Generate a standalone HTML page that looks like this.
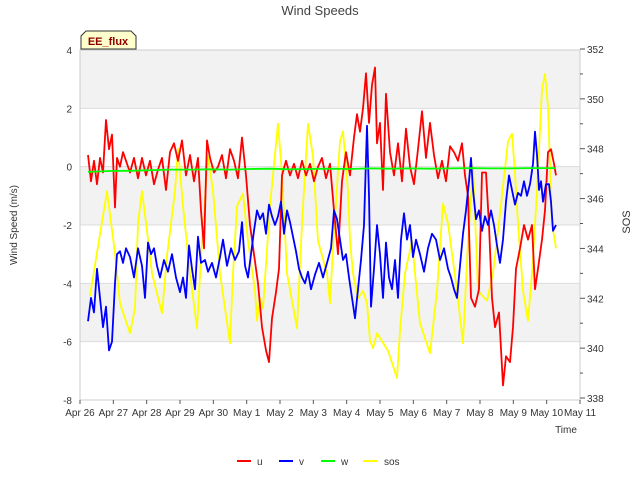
<!DOCTYPE html>
<html><head><meta charset="utf-8"><style>
body{margin:0;background:#fff;}
svg{font-family:"Liberation Sans","DejaVu Sans",sans-serif;}
</style></head><body>
<svg id="c" width="640" height="480"></svg>
<script>
// x positions given as days since Apr 26
const uX=[88,91,94,97,100,103,106,109,112,115,117,120,123,126,130,134,138,142,146,150,154,158,162,166,170,174,178,182,186,190,194,198,201,204,207,210,214,218,222,226,230,234,238,242,246,250,254,258,262,266,269,272,276,279,282,286,290,294,298,302,306,310,314,318,322,326,330,334,338,342,346,350,354,357,360,363,366,369,372,375,377,380,383,386,390,394,398,402,406,410,414,418,422,426,430,434,438,442,446,450,454,458,462,465,468,471,475,479,482,486,489,492,495,499,503,506,510,513,516,520,524,528,532,535,538,542,545,548,551,554,556];
const uV=[0.4,-0.5,0.2,-0.6,0.3,-0.2,1.6,0.6,1.1,-1.4,0.3,0,0.5,0.2,-0.2,0.3,-0.4,0.3,-0.3,0.2,-0.6,-0.1,0.3,-0.8,0.5,0.8,0.2,0.9,-0.3,0.4,-0.5,0.3,-1.5,-2.8,0.9,0.3,-0.2,0,0.4,-0.4,0.6,0.2,-0.4,1,-0.3,-2,-3,-4,-5.5,-6.3,-6.7,-5.2,-4.3,-3.5,-0.3,0.2,-0.3,0.1,-0.4,0.2,-0.3,0.1,-0.5,0,0.3,-0.4,0.1,-1.5,-3,-0.5,0.5,-0.3,1,1.8,1.2,2,3.2,1.5,2.8,3.4,0.8,1.5,-0.8,2.5,0.5,-0.3,0.8,-0.5,1.3,0,-0.6,0.6,1.9,0.3,1.5,0.4,-0.4,0.2,-0.5,0.7,0.5,0.2,0.8,-0.3,-1,-4.5,-4.8,-4.2,-0.2,-0.2,-2,-4.5,-5.5,-5,-7.5,-6.5,-6.7,-5.5,-3.5,-2.8,-2,-2.5,-2,-4.2,-3.5,-2.5,-1.5,0.5,0.6,0.1,-0.3];
const vX=[88,91,94,97,100,103,106,109,112,115,117,120,123,126,130,134,138,142,145,148,151,154,157,160,164,168,172,176,180,183,186,189,192,195,198,201,205,208,212,216,220,223,227,231,235,239,242,245,248,251,254,257,260,263,266,269,272,275,278,281,284,287,290,293,296,299,302,305,308,311,315,319,323,327,331,334,337,340,343,346,349,352,355,358,361,364,367,369,371,374,377,380,383,386,389,392,395,398,401,404,407,410,413,416,420,424,428,432,436,440,444,448,451,454,457,460,463,466,469,471,473,476,479,482,485,488,491,494,497,500,503,506,509,512,515,518,521,524,527,530,533,535,537,539,541,543,546,549,551,553,556];
const vV=[-5.3,-4.5,-5,-3.5,-4.5,-5.5,-4.8,-6.3,-6,-4,-3,-2.9,-3.3,-2.8,-3.1,-3.8,-2.8,-3.4,-4.5,-2.6,-3,-2.8,-3.4,-3.8,-3.2,-3.6,-3,-3.8,-4.3,-3.8,-4.5,-2.7,-3.5,-4.2,-2.4,-3.3,-3.2,-3.6,-3.3,-3.8,-3.1,-2.5,-3.4,-2.8,-3.2,-2.9,-1.9,-3.4,-3.8,-3,-2.2,-1.5,-1.8,-1.6,-2.3,-1.3,-1.7,-2,-1.7,-1.2,-2.3,-1.5,-1.9,-2.4,-2.9,-3.5,-3.8,-4,-3.6,-4.2,-3.7,-3.3,-3.8,-3.3,-2.8,-1.5,-1.8,-2.5,-3.2,-3,-3.8,-4.5,-5.2,-4.2,-3.2,-2,1.4,-1,-4.8,-3.5,-2,-3,-4.5,-2.6,-3.8,-4.2,-3.2,-4.5,-2.5,-1.6,-2.5,-2,-3.1,-2.5,-3,-3.6,-2.8,-2.3,-2.5,-3.2,-2.8,-3.5,-3.8,-4.2,-4.5,-3.4,-2.3,-1.5,-0.5,0.3,-0.8,-1.8,-1.5,-2.2,-1.7,-2,-1.5,-2,-2.7,-3.3,-2.5,-1.2,-0.3,-0.8,-1.3,-0.9,-1,-0.5,-1,-0.6,0.1,1.2,0.4,-0.8,-0.5,-1.2,-0.6,-0.6,-1.2,-2.2,-2];
const wX=[88,110,130,150,170,190,210,230,250,270,290,310,330,350,370,390,410,430,450,470,490,510,530,556];
const wV=[-0.18,-0.15,-0.14,-0.12,-0.1,-0.1,-0.09,-0.1,-0.08,-0.07,-0.09,-0.08,-0.07,-0.08,-0.06,-0.07,-0.06,-0.07,-0.06,-0.05,-0.06,-0.06,-0.05,-0.05];
const sX=[90,107,115,120,130,135,138,142,147,152,162,167,175,178,183,190,197,202,208,213,220,230,233,237,243,248,255,257,260,263,270,278,282,287,297,302,308,313,318,327,330,333,340,343,348,350,353,358,363,367,370,373,377,388,397,400,405,412,415,420,430,437,443,448,457,463,468,473,478,487,493,500,508,512,515,518,523,528,532,537,542,545,548,552,556];
const sV=[342.1,346.3,343.8,341.8,340.6,341.6,345,346.3,344.7,343,341.4,343.7,346.3,348,345.7,343,340.8,344.3,347.7,346.3,343,340.2,343,345.7,346.2,344.3,342.3,341.1,342,341.6,345.7,349,347,343,340.8,345,349,347.7,344.3,343,341.8,344,348.3,348.7,346.3,344.3,343,342,342.3,341.8,340.3,340,340.6,339.9,338.8,340.7,343,344.3,343,341,339.8,342.3,345.8,345,342.3,340.2,344.3,347.3,342.3,341.9,343,345.4,348.3,348.6,347,345,342.3,341.1,343,346.3,350.4,351,349.7,345,344];
const xTicks=["Apr 26","Apr 27","Apr 28","Apr 29","Apr 30","May 1","May 2","May 3","May 4","May 5","May 6","May 7","May 8","May 9","May 10","May 11"];
const yTicks=[-8,-6,-4,-2,0,2,4];
const y2Ticks=[338,340,342,344,346,348,350,352];

const L=80,R=580,T=50,B=400;
const xp=px=>px; // data x stored in chart px-equivalent day units
const xs=i=>L+i*(R-L)/15;
const ys=v=>B-(v+8)*(B-T)/12;
const y2=s=>398-(s-338)*(349/14);
const svg=document.getElementById('c');
const NS='http://www.w3.org/2000/svg';
function mk(t,a,p){const e=document.createElementNS(NS,t);for(const k in a)e.setAttribute(k,a[k]);(p||svg).appendChild(e);return e;}
// bands
for(let v=2;v>=-6;v-=4){}
[[4,2],[0,-2],[-4,-6]].forEach((b,i)=>{const r=mk('rect',{x:L,y:ys(b[0]),width:R-L,height:ys(b[1])-ys(b[0]),fill:'#f2f2f2'});

});
yTicks.forEach(v=>{const g=mk('line',{x1:L,x2:R,y1:ys(v),y2:ys(v),stroke:'#dcdcdc','stroke-width':1});


const t=mk('text',{x:72,y:ys(v)+4,'text-anchor':'end','font-size':10,fill:'#333'});t.textContent=v;

});
mk('rect',{x:L,y:T,width:R-L,height:B-T,fill:'none',stroke:'#ccc'});
xTicks.forEach((lab,i)=>{const t=mk('text',{x:xs(i),y:416,'text-anchor':'middle','font-size':10,fill:'#333'});t.textContent=lab;


mk('line',{x1:xs(i),x2:xs(i),y1:B,y2:B+4,stroke:'#555'});});
for(let s=338;s<=352;s++){mk('line',{x1:R,x2:R+(s%2?3:5),y1:y2(s),y2:y2(s),stroke:'#555'});}
y2Ticks.forEach(s=>{const t=mk('text',{x:587,y:y2(s)+4,'font-size':10,fill:'#333'});t.textContent=s;

});
function line(X,V,f,col,name){const d=X.map((x,i)=>(i?'L':'M')+xp(x).toFixed(1)+','+f(V[i]).toFixed(1)).join('');
const p=mk('path',{d:d,fill:'none',stroke:col,'stroke-width':1.8,'stroke-linejoin':'round'});

}
line(sX,sV,y2,'#ffff00','series-sos');
line(uX,uV,ys,'#ff0000','series-u');
line(vX,vV,ys,'#0000ff','series-v');
line(wX,wV,ys,'#00ff00','series-w');
</script>
<svg style="position:absolute;left:0;top:0" width="640" height="480" font-family="Liberation Sans, sans-serif">
<text x="320" y="15" text-anchor="middle" font-size="13" fill="#444">Wind Speeds</text>
<text transform="translate(17,225) rotate(-90)" text-anchor="middle" font-size="10" fill="#333">Wind Speed (m/s)</text>
<text transform="translate(630,222) rotate(-90)" text-anchor="middle" font-size="11" fill="#333">SOS</text>
<text x="566" y="433" text-anchor="middle" font-size="10" fill="#333">Time</text>
<g><path d="M81,49 L81,36 L86,31 L131,31 L136,36 L136,49 Z" fill="#ffffcc" stroke="#333"/>
<text x="108" y="45" text-anchor="middle" font-size="11" font-weight="bold" fill="#8b0000">EE_flux</text></g>
<g>
<line x1="237" x2="251" y1="461" y2="461" stroke="#f00" stroke-width="2"/><text x="257" y="465" font-size="10" fill="#333">u</text>
<line x1="279" x2="293" y1="461" y2="461" stroke="#00f" stroke-width="2"/><text x="299" y="465" font-size="10" fill="#333">v</text>
<line x1="321" x2="335" y1="461" y2="461" stroke="#0f0" stroke-width="2"/><text x="341" y="465" font-size="10" fill="#333">w</text>
<line x1="363" x2="377" y1="461" y2="461" stroke="#ff0" stroke-width="2"/><text x="384" y="465" font-size="10" fill="#333">sos</text>
</g></svg>
</body></html>
